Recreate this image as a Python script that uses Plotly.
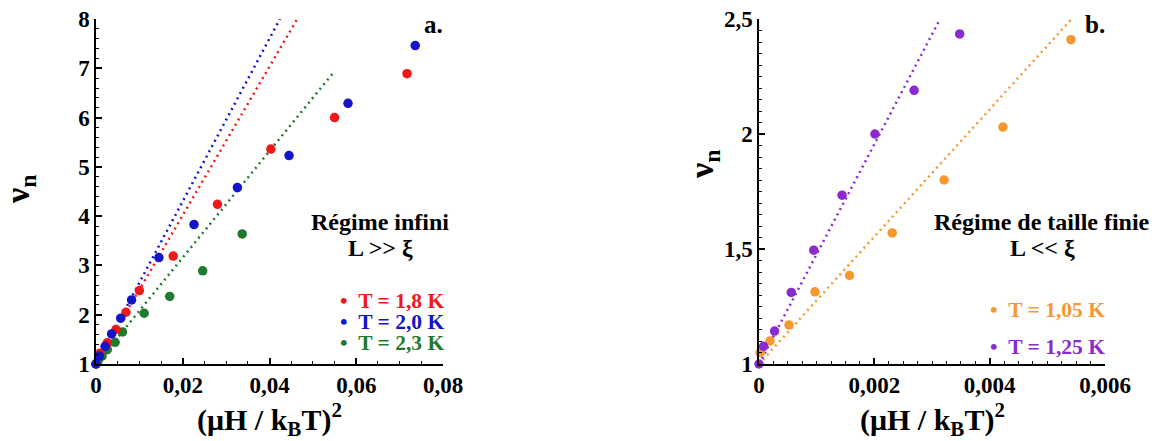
import plotly.graph_objects as go

# ---------------- data ----------------
# Panel a.
a_red_x = [0, 0.0009, 0.0026, 0.0046, 0.0069, 0.0100, 0.0178, 0.0280, 0.0403, 0.0550, 0.0717]
a_red_y = [1, 1.22, 1.43, 1.70, 2.05, 2.49, 3.19, 4.24, 5.36, 6.00, 6.89]
a_blue_x = [0, 0.0008, 0.0021, 0.0036, 0.0057, 0.0082, 0.0145, 0.0226, 0.0326, 0.0445, 0.0581, 0.0736]
a_blue_y = [1, 1.16, 1.36, 1.61, 1.93, 2.30, 3.16, 3.83, 4.58, 5.23, 6.29, 7.46]
a_green_x = [0, 0.0005, 0.0014, 0.0026, 0.0044, 0.0061, 0.0111, 0.0170, 0.0246, 0.0337]
a_green_y = [1, 1.07, 1.16, 1.29, 1.44, 1.65, 2.03, 2.37, 2.89, 3.64]
# dotted fits (end points)
a_red_fit_x = [0, 0.0464]
a_red_fit_y = [1, 8.0]
a_blue_fit_x = [0, 0.0424]
a_blue_fit_y = [1, 8.0]
a_green_fit_x = [0, 0.0549]
a_green_fit_y = [1, 6.93]

# Panel b.
b_orange_x = [0.00002, 0.00019, 0.00052, 0.00097, 0.00157, 0.00231, 0.00321, 0.00423, 0.00541]
b_orange_y = [1.05, 1.10, 1.17, 1.314, 1.385, 1.57, 1.80, 2.03, 2.41]
b_purple_x = [0, 0.00008, 0.00027, 0.00056, 0.00095, 0.00144, 0.00201, 0.00269, 0.00348]
b_purple_y = [1, 1.077, 1.143, 1.311, 1.495, 1.734, 2.00, 2.19, 2.435]
b_orange_fit_x = [0, 0.00542]
b_orange_fit_y = [1, 2.5]
b_purple_fit_x = [0, 0.00314]
b_purple_fit_y = [1, 2.5]

# axis ranges and tick steps (major, minor)
a_xrange = [0, 0.08]
a_xsteps = [0.02, 0.005]
a_yrange = [1, 8]
a_ysteps = [1, 0.2]
b_xrange = [0, 0.006]
b_xsteps = [0.002, 0.00025]
b_yrange = [1, 2.5]
b_ysteps = [0.5, 0.05]

a_labels = ["T = 1,8 K", "T = 2,0 K", "T = 2,3 K"]
b_labels = ["T = 1,05 K", "T = 1,25 K"]

# ---------------- styling ----------------
RED = "#f01818"
BLUE = "#1414c8"
GREEN = "#1e7a2c"
ORANGE = "#f7972f"
PURPLE = "#8c2ad2"
FONT = "Liberation Serif, Times New Roman, serif"

W, H = 1160, 441


def px(x):
    return x / W


def py(y):
    return 1 - y / H


fig = go.Figure()


def add_series(xs, ys, color, xa, ya):
    fig.add_trace(go.Scatter(x=xs, y=ys, mode="markers", xaxis=xa, yaxis=ya,
                             marker=dict(size=9.5, color=color, line=dict(width=0)),
                             cliponaxis=False, showlegend=False))


def add_fit(xs, ys, color, xa, ya):
    fig.add_trace(go.Scatter(x=xs, y=ys, mode="lines", xaxis=xa, yaxis=ya,
                             line=dict(color=color, width=2.5, dash="2px,4px"),
                             cliponaxis=False, showlegend=False))


add_fit(a_red_fit_x, a_red_fit_y, RED, "x", "y")
add_fit(a_blue_fit_x, a_blue_fit_y, BLUE, "x", "y")
add_fit(a_green_fit_x, a_green_fit_y, GREEN, "x", "y")
add_series(a_green_x, a_green_y, GREEN, "x", "y")
add_series(a_red_x, a_red_y, RED, "x", "y")
add_series(a_blue_x, a_blue_y, BLUE, "x", "y")

add_fit(b_orange_fit_x, b_orange_fit_y, ORANGE, "x2", "y2")
add_fit(b_purple_fit_x, b_purple_fit_y, PURPLE, "x2", "y2")
add_series(b_orange_x, b_orange_y, ORANGE, "x2", "y2")
add_series(b_purple_x, b_purple_y, PURPLE, "x2", "y2")

tickfont = dict(family=FONT, size=23, color="black", weight="bold")


def axis(dom, rng, steps, anchor):
    return dict(domain=dom, range=rng, anchor=anchor, automargin=False,
                tickmode="linear", tick0=rng[0], dtick=steps[0],
                showline=True, linecolor="black", linewidth=1.5,
                ticks="inside", ticklen=6, tickwidth=1.8, tickcolor="black",
                ticklabeloverflow="allow",
                showgrid=False, zeroline=False, tickfont=tickfont,
                minor=dict(tick0=rng[0], dtick=steps[1], ticks="inside",
                           ticklen=3.5, tickwidth=1.2, tickcolor="black", showgrid=False))


ydom = [py(364), py(19)]
fig.update_layout(
    template="none",
    width=W, height=H,
    margin=dict(l=0, r=0, t=0, b=0, pad=0),
    paper_bgcolor="white", plot_bgcolor="white",
    separators=", ",
    font=dict(family=FONT),
    xaxis=axis([px(96), px(443)], a_xrange, a_xsteps, "y"),
    yaxis=axis(ydom, a_yrange, a_ysteps, "x"),
    xaxis2=axis([px(759), px(1105)], b_xrange, b_xsteps, "y2"),
    yaxis2=axis(ydom, b_yrange, b_ysteps, "x2"),
)

ann = []


def text(x, y, s, size, color="black", angle=0, xanchor="center"):
    ann.append(dict(x=px(x), y=py(y), xref="paper", yref="paper", text="<b>" + s + "</b>",
                    showarrow=False, xanchor=xanchor, yanchor="middle", textangle=angle,
                    font=dict(family=FONT, size=size, color=color)))


xtitle = "(μH / k<sub>B</sub>T)<sup>2</sup>"
text(269, 419, xtitle, 30)
text(932, 419, xtitle, 30)
text(20, 190, "ν<sub>n</sub>", 34, angle=-90)
text(704, 165, "ν<sub>n</sub>", 34, angle=-90)

text(433, 25, "a.", 25)
text(1095, 25, "b.", 25)
text(380, 222, "Régime infini", 24)
text(380, 248, "L &gt;&gt; ξ", 24)
text(1042, 222, "Régime de taille finie", 24)
text(1042, 248, "L &lt;&lt; ξ", 24)

for lab, col, yy in zip(a_labels, [RED, BLUE, GREEN], [301, 322, 343]):
    text(446, yy, "•\u00a0\u00a0" + lab, 21.5, color=col, xanchor="right")
for lab, col, yy in zip(b_labels, [ORANGE, PURPLE], [310, 347]):
    text(1107, yy, "•\u00a0\u00a0" + lab, 21.5, color=col, xanchor="right")

fig.update_layout(annotations=ann)
fig.write_html("out.html", config={"displayModeBar": False},
               post_script="document.body.style.margin='0';document.body.style.overflow='hidden';")
